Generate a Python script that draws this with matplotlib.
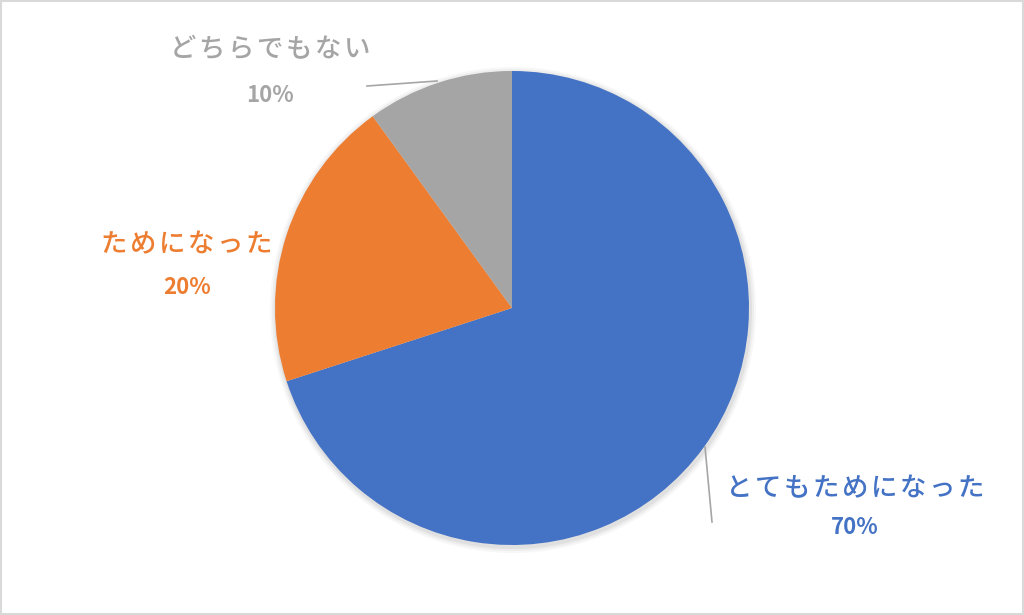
import matplotlib
matplotlib.use('Agg')
import matplotlib.pyplot as plt

plt.rcParams['font.family'] = ['Noto Sans CJK JP', 'DejaVu Sans']

labels = ['とてもためになった', 'ためになった', 'どちらでもない']
values = [70, 20, 10]
colors = ['#4472C4', '#ED7D31', '#A5A5A5']

W, H = 1024, 615
fig = plt.figure(figsize=(W / 100, H / 100), dpi=100)
ax = fig.add_axes([0, 0, 1, 1])

cx, cy, r = 512, H - 308, 237

# soft shadow
for i, a in enumerate([0.05, 0.04, 0.03]):
    ax.add_patch(plt.Circle((cx + 1, cy - 2), r + 2 + 2 * i, color='black', alpha=a, lw=0, zorder=1))

ax.pie(values, colors=colors, startangle=90, counterclock=False,
       center=(cx, cy), radius=r, wedgeprops=dict(linewidth=0), frame=True)
ax.set_xlim(0, W)
ax.set_ylim(0, H)
ax.set_aspect('equal')
ax.axis('off')

# label positions: (x center, y name line, y percent line) in pixels from top
label_pos = [(855, 489, 527), (187, 245, 287), (270, 50, 95)]
for lab, v, c, (lx, ly, py) in zip(labels, values, colors, label_pos):
    ax.text(lx, H - ly, '\u200a'.join(lab), color=c, fontsize=19, fontweight='medium',
            ha='center', va='center')
    ax.text(lx, H - py, f'{v}%', color=c, fontsize=16, fontweight='bold',
            ha='center', va='center')

# leader lines
ax.plot([705, 712], [H - 447, H - 522], color='#A6A6A6', lw=1.2)
ax.plot([367, 437], [H - 86, H - 81], color='#A6A6A6', lw=1.2)

# outer frame
fig.patches.append(plt.Rectangle((0.001, 0.001), 0.998, 0.997, transform=fig.transFigure,
                                 fill=False, edgecolor='#D9D9D9', lw=1.5))

fig.savefig('out.png', dpi=100)
